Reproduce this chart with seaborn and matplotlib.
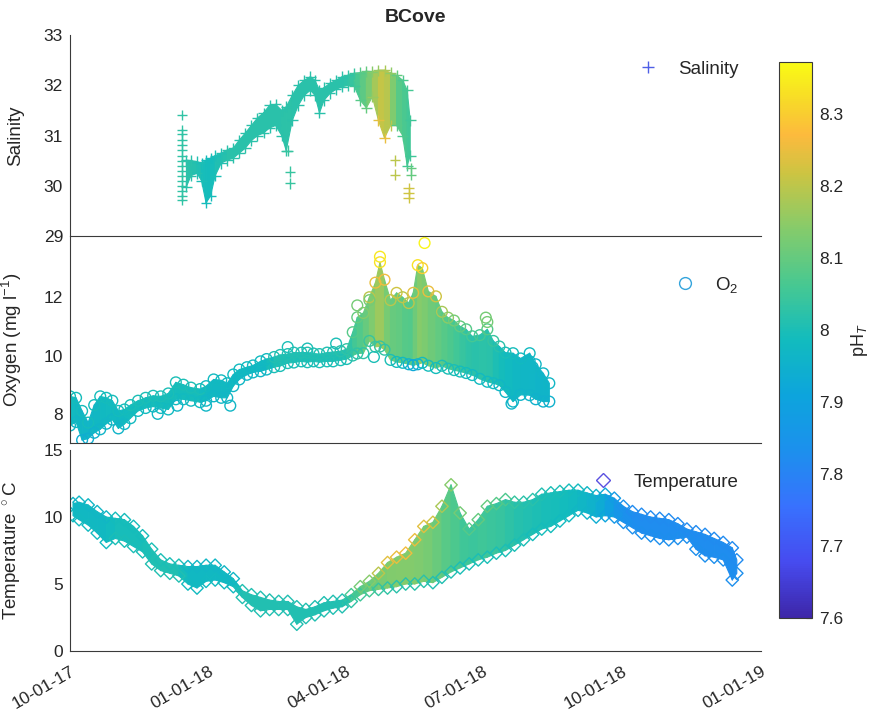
import numpy as np
import pandas as pd
import matplotlib
matplotlib.use("Agg")
import matplotlib.pyplot as plt
import matplotlib.dates as mdates
from matplotlib.colors import LinearSegmentedColormap, Normalize
from matplotlib.cm import ScalarMappable
from matplotlib.collections import PolyCollection
from matplotlib.lines import Line2D
from matplotlib.ticker import FuncFormatter
import seaborn as sns

# ---------------- data ----------------
START = "2017-10-01"
x_tick_dates = ["2017-10-01", "2018-01-01", "2018-04-01", "2018-07-01", "2018-10-01", "2019-01-01"]

# Salinity: band upper/lower envelope, pH at top / bottom of band
sal_day = [77, 80, 84, 87, 90, 93, 96, 100, 104, 108, 112, 116, 120, 124, 128, 132, 136, 140, 143, 147,
           151, 155, 159, 162, 165, 168, 172, 176, 180, 184, 188, 192, 196, 200, 204, 208, 212, 216, 220, 223, 225]
sal_hi = [30.51, 30.50, 30.48, 30.45, 30.51, 30.55, 30.6, 30.65, 30.71, 30.75, 30.91, 31.05, 31.2, 31.35, 31.45,
          31.6, 31.62, 31.5, 31.57, 31.8, 32.0, 32.1, 32.17, 32.1, 31.9, 31.95, 32.04, 32.1, 32.17, 32.2, 32.24,
          32.25, 32.28, 32.27, 32.3, 32.3, 32.25, 32.2, 32.1, 31.9, 31.3]
sal_lo = [29.98, 30.2, 30.25, 30.1, 29.66, 29.8, 30.2, 30.45, 30.51, 30.55, 30.65, 30.75, 30.9, 31.0, 31.05,
          31.15, 31.2, 31.0, 30.7, 31.3, 31.6, 31.8, 31.9, 31.8, 31.45, 31.7, 31.84, 31.92, 31.97, 32.0, 31.98,
          31.7, 31.55, 31.77, 31.3, 30.95, 31.2, 31.2, 31.0, 30.4, 30.6]
sal_ph_hi = [8.02, 8.02, 8.01, 8.0, 7.99, 7.99, 8.0, 8.01, 8.02, 8.02, 8.02, 8.02, 8.02, 8.02, 8.02, 8.02, 8.02,
             8.02, 8.02, 8.02, 8.02, 8.02, 8.02, 8.02, 8.02, 8.02, 8.02, 8.02, 8.02, 8.03, 8.04, 8.08, 8.1, 8.14,
             8.16, 8.18, 8.15, 8.1, 8.07, 8.06, 8.05]
sal_ph_lo = [8.02, 8.02, 8.01, 8.0, 7.99, 7.99, 8.0, 8.01, 8.02, 8.02, 8.02, 8.02, 8.02, 8.02, 8.02, 8.02, 8.02,
             8.02, 8.03, 8.02, 8.02, 8.02, 8.02, 8.02, 8.02, 8.02, 8.02, 8.02, 8.02, 8.03, 8.05, 8.08, 8.1, 8.16,
             8.24, 8.25, 8.2, 8.08, 8.07, 8.06, 8.05]
sal_out_day = [74] * 16 + [145.5, 145.5, 144, 215, 215, 224, 224, 224, 225.5, 225.5]
sal_out = [31.41, 31.1, 31.02, 30.92, 30.82, 30.72, 30.6, 30.5, 30.4, 30.3, 30.2, 30.1, 30.0, 29.9, 29.8, 29.72,
           30.28, 30.05, 30.7, 30.51, 30.22, 29.95, 29.85, 29.76, 30.35, 30.22]
sal_out_ph = [8.03] * 16 + [8.04, 8.04, 8.04, 8.2, 8.2, 8.22, 8.22, 8.22, 8.1, 8.1]

# Oxygen
oxy_day = [0, 4, 8, 12, 16, 20, 24, 28, 32, 36, 40, 45, 50, 55, 60, 65, 70, 75, 80, 86,
           90, 95, 100, 104, 108, 112, 117, 121, 126, 130, 135, 139, 144, 148, 153, 157, 161, 165, 170, 174,
           179, 183, 187, 190, 194, 198, 202, 205, 208, 212, 216, 220, 224, 227, 230, 233, 237, 242, 246, 250,
           254, 258, 262, 266, 271, 276, 280, 284, 288, 293, 298, 304, 308, 313, 317]
oxy_hi = [8.6, 8.55, 8.1, 7.7, 8.3, 8.6, 8.55, 8.45, 8.1, 8.15, 8.3, 8.45, 8.55, 8.62, 8.6, 8.7, 9.08, 9.0, 8.9, 8.85,
          8.95, 9.18, 9.15, 9.05, 9.35, 9.52, 9.6, 9.66, 9.8, 9.88, 9.95, 10.02, 10.05, 10.1, 10.1, 10.1, 10.07, 10.05,
          10.1, 10.12, 10.15, 10.22, 10.8, 11.31, 11.46, 12.0, 12.5, 13.2, 12.6, 11.9, 12.15, 12.0, 11.8, 12.15, 13.1,
          13.0, 12.2, 12.03, 11.5, 11.3, 11.2, 11.0, 10.9, 10.66, 10.7, 10.9, 10.5, 10.31, 10.1, 10.08, 9.9, 10.08,
          9.7, 9.39, 9.05]
oxy_lo = [7.6, 7.72, 7.1, 7.15, 7.35, 7.47, 7.66, 7.8, 7.5, 7.65, 7.85, 8.1, 8.2, 8.25, 8.2, 8.15, 8.5, 8.5, 8.45, 8.4,
          8.45, 8.6, 8.55, 8.55, 8.95, 9.18, 9.34, 9.42, 9.46, 9.52, 9.6, 9.64, 9.74, 9.76, 9.8, 9.77, 9.8, 9.77, 9.8,
          9.8, 9.84, 9.88, 10.0, 10.07, 10.08, 10.5, 10.3, 10.31, 10.2, 9.85, 9.78, 9.75, 9.7, 9.67, 9.7, 9.75, 9.65,
          9.57, 9.65, 9.55, 9.5, 9.45, 9.4, 9.33, 9.2, 9.1, 9.05, 8.98, 8.75, 8.42, 8.65, 8.64, 8.5, 8.42, 8.42]
oxy_ph_hi = [7.99] * 10 + [8.0] * 10 + [7.98] * 10 + [8.01] * 10 + \
            [8.02, 8.03, 8.08, 8.1, 8.14, 8.2, 8.25, 8.33, 8.26, 8.2,
             8.22, 8.2, 8.2, 8.24, 8.33, 8.3, 8.25, 8.22, 8.18, 8.15,
             8.12, 8.1, 8.08, 8.06, 8.06, 8.08, 8.04, 8.02, 8.0, 7.99,
             7.98, 7.98, 7.97, 7.97, 7.97]
oxy_ph_lo = [7.97, 7.97, 7.94, 7.94, 7.95, 7.96, 7.97, 7.97, 7.96, 7.97] + [7.98] * 10 + [7.97] * 10 + [8.0] * 10 + \
            [8.0, 8.0, 8.02, 8.03, 8.03, 8.04, 8.04, 8.04, 8.03, 8.0,
             7.99, 7.98, 7.95, 7.92, 7.95, 7.98, 7.99, 7.99, 8.0, 8.0,
             8.0, 7.99, 7.99, 7.98, 7.98, 7.98, 7.98, 7.97, 7.97, 7.96,
             7.96, 7.96, 7.95, 7.95, 7.95]
oxy_out_day = [58, 71, 90, 106, 144, 157, 176, 190, 198, 201, 205, 234.5, 275, 276, 304, 306, 292]
oxy_out = [8.0, 8.28, 8.28, 8.28, 10.29, 10.24, 10.41, 11.72, 11.9, 9.95, 13.39, 13.86, 11.3, 11.15, 9.8, 9.6, 8.35]
oxy_out_ph = [7.97, 7.97, 7.97, 7.97, 8.0, 8.0, 8.0, 8.12, 8.12, 8.0, 8.34, 8.36, 8.12, 8.12, 7.97, 7.97, 7.96]

# Temperature
tmp_day = [2, 6, 12, 18, 24, 30, 36, 42, 48, 54, 60, 66, 72, 78, 84, 90, 96, 102, 108, 114, 120, 126, 132, 138,
           144, 150, 156, 162, 168, 174, 180, 186, 192, 198, 204, 210, 216, 222, 228, 234, 240, 246, 252, 258,
           264, 270, 276, 282, 288, 294, 300, 306, 312, 318, 324, 330, 336, 342, 348, 354, 360, 366, 372, 378,
           384, 390, 396, 402, 408, 414, 420, 426, 432, 438, 441]
tmp_hi = [11.0, 11.1, 10.9, 10.4, 10.0, 9.9, 9.8, 9.3, 8.6, 7.6, 6.8, 6.5, 6.4, 6.3, 6.3, 6.4, 6.4, 5.9, 5.4, 4.5,
          4.2, 4.0, 3.8, 3.7, 3.7, 3.3, 3.1, 3.3, 3.6, 3.7, 3.8, 4.2, 4.8, 5.2, 5.8, 6.6, 7.0, 7.3, 8.3, 9.3, 9.6,
          10.8, 12.4, 10.3, 9.1, 9.8, 10.8, 11.0, 11.3, 11.1, 11.1, 11.3, 11.7, 11.8, 11.9, 12.0, 12.0, 11.8, 11.6,
          11.7, 11.4, 10.8, 10.4, 10.2, 10.0, 9.9, 9.8, 9.5, 9.1, 8.9, 8.7, 8.4, 8.1, 7.7, 6.8]
tmp_lo = [10.1, 9.8, 9.4, 8.8, 8.1, 8.4, 8.2, 7.8, 7.4, 6.5, 6.0, 5.8, 5.6, 5.0, 4.7, 5.2, 5.3, 5.1, 4.8, 4.0, 3.4,
          3.0, 3.1, 3.1, 3.1, 2.0, 2.5, 2.7, 3.0, 3.2, 3.3, 3.7, 4.2, 4.5, 4.6, 4.7, 4.8, 5.0, 5.0, 5.2, 5.1, 5.5,
          5.9, 6.2, 6.5, 6.8, 7.0, 7.3, 7.5, 7.9, 8.3, 8.7, 9.1, 9.3, 9.7, 10.1, 10.5, 10.3, 10.0, 10.1, 10.0, 9.6,
          9.2, 8.8, 8.6, 8.4, 8.3, 8.4, 8.5, 7.6, 7.1, 7.0, 6.8, 5.3, 5.8]
tmp_ph_hi = [7.97] * 5 + [7.99] * 4 + [8.0] * 4 + [7.97] * 6 + [8.01] * 12 + \
            [8.06, 8.12, 8.14, 8.2, 8.24, 8.25, 8.26, 8.25, 8.24, 8.22, 8.18,
             8.14, 8.12, 8.08, 8.1, 8.1, 8.08, 8.07,
             8.04, 8.02, 8.02, 8.01, 8.0, 8.0, 7.99, 7.98, 7.97, 7.95, 7.92,
             7.87, 7.84] + [7.82] * 13
tmp_ph_lo = [7.98] * 5 + [8.0] * 4 + [8.01] * 4 + [7.98] * 6 + [8.01] * 12 + \
            [8.03, 8.05, 8.06, 8.04, 8.03, 8.02, 8.02, 8.02, 8.02, 8.01, 8.01,
             8.01, 8.0, 8.0, 8.0, 8.0, 8.0, 8.0,
             8.0, 8.0, 7.99, 7.99, 7.99, 7.98, 7.98, 7.97, 7.96, 7.94, 7.91,
             7.86, 7.84] + [7.83] * 13

# ---------------- style ----------------
sns.set_style("white")
plt.rcParams["font.family"] = ["Liberation Sans", "DejaVu Sans"]
plt.rcParams["mathtext.fontset"] = "custom"
plt.rcParams["mathtext.rm"] = "Liberation Sans"
plt.rcParams["mathtext.it"] = "Liberation Sans:italic"
plt.rcParams["mathtext.bf"] = "Liberation Sans:bold"
TXT = "#262626"
plt.rcParams["text.color"] = TXT
plt.rcParams["axes.labelcolor"] = TXT
plt.rcParams["xtick.color"] = TXT
plt.rcParams["ytick.color"] = TXT

# parula-like colormap (MATLAB default)
parula_pos = [0.0, 0.1, 0.2, 0.3, 0.4, 0.5, 0.6, 0.7, 0.8, 0.87, 0.93, 1.0]
parula_rgb = [(0.2422, 0.1504, 0.6603), (0.2760, 0.2950, 0.9400), (0.2200, 0.4450, 0.9950),
              (0.1100, 0.5650, 0.9300), (0.0500, 0.6450, 0.8650), (0.0700, 0.7350, 0.7450),
              (0.2800, 0.7850, 0.5700), (0.5200, 0.7980, 0.4200), (0.8000, 0.7700, 0.2600),
              (0.9900, 0.7300, 0.2400), (0.9700, 0.8500, 0.1600), (0.9769, 0.9839, 0.0805)]
parula = LinearSegmentedColormap.from_list("parula", list(zip(parula_pos, parula_rgb)))
norm = Normalize(vmin=7.6, vmax=8.372)

start = pd.Timestamp(START)


def to_num(days):
    return mdates.date2num(start + pd.to_timedelta(np.asarray(days, dtype=float), unit="D"))


def hollow(coll):
    fc = coll.get_facecolors()
    coll.set_edgecolors(fc)
    coll.set_facecolors("none")


def draw_series(ax, day, hi, lo, ph_hi, ph_lo, out_day, out, out_ph, marker, size, is_filled):
    xd = to_num(day)
    hi = np.asarray(hi)
    lo = np.asarray(lo)
    band_ph = (np.asarray(ph_hi) + np.asarray(ph_lo)) / 2
    polys, cols = [], []
    for i in range(len(xd) - 1):
        polys.append([(xd[i], lo[i]), (xd[i + 1], lo[i + 1]), (xd[i + 1], hi[i + 1]), (xd[i], hi[i])])
        cols.append(parula(norm((band_ph[i] + band_ph[i + 1]) / 2)))
    pc = PolyCollection(polys, facecolors=cols, edgecolors=cols, linewidths=0.8, zorder=1)
    ax.add_collection(pc)
    for xs, ys, cs in [(xd, lo, ph_lo), (xd, hi, ph_hi), (to_num(out_day), out, out_ph)]:
        if len(xs) == 0:
            continue
        df = pd.DataFrame({"x": xs, "y": ys, "ph": cs})
        sns.scatterplot(data=df, x="x", y="y", hue="ph", palette=parula, hue_norm=norm,
                        marker=marker, s=size, linewidth=1.0, legend=False, ax=ax, zorder=2)
        if is_filled:
            hollow(ax.collections[-1])


# ---------------- figure ----------------
W, H = 873, 717
fig = plt.figure(figsize=(W / 100, H / 100), dpi=100)
L, R = 70, 761


def axes_px(top, bottom):
    return fig.add_axes([L / W, 1 - bottom / H, (R - L) / W, (bottom - top) / H])


ax1 = axes_px(35, 236)
ax2 = axes_px(236, 443)
ax3 = axes_px(450, 651)

draw_series(ax1, sal_day, sal_hi, sal_lo, sal_ph_hi, sal_ph_lo, sal_out_day, sal_out, sal_out_ph,
            "+", 60, False)
draw_series(ax2, oxy_day, oxy_hi, oxy_lo, oxy_ph_hi, oxy_ph_lo, oxy_out_day, oxy_out, oxy_out_ph,
            "o", 60, True)
draw_series(ax3, tmp_day, tmp_hi, tmp_lo, tmp_ph_hi, tmp_ph_lo, [], [], [],
            "D", 40, True)

xt = mdates.date2num(pd.to_datetime(x_tick_dates))
for ax in (ax1, ax2, ax3):
    ax.set_xlim(xt[0], xt[-1])
    ax.set_xticks(xt)
    ax.set_facecolor("none")
    for s in ("top", "right"):
        ax.spines[s].set_visible(False)
    for s in ("left", "bottom"):
        ax.spines[s].set_color("#3a3a3a")
        ax.spines[s].set_linewidth(0.8)
    ax.tick_params(direction="in", length=4.5, width=0.8, color="#3a3a3a", labelsize=12.5, pad=5)
    ax.set_xlabel("")

ax1.set_ylim(29, 33)
ax1.set_yticks([29, 30, 31, 32, 33])
ax2.set_ylim(7.0, 14.1)
ax2.set_yticks([8, 10, 12])
ax3.set_ylim(0, 15)
ax3.set_yticks([0, 5, 10, 15])
ax1.tick_params(axis="x", labelbottom=False)
ax2.tick_params(axis="x", labelbottom=False)
ax3.xaxis.set_major_formatter(mdates.DateFormatter("%m-%d-%y"))
ax3.tick_params(axis="x", pad=9)
for lab in ax3.get_xticklabels():
    lab.set_rotation(30)
    lab.set_ha("right")
    lab.set_rotation_mode("anchor")

ax1.set_ylabel("Salinity", fontsize=13.5)
ax2.set_ylabel("Oxygen (mg l$^{-1}$)", fontsize=13.5)
ax3.set_ylabel("Temperature $^\\circ$C", fontsize=13.5)
for ax in (ax1, ax2, ax3):
    ax.yaxis.set_label_coords(-0.066, 0.5)

ax1.set_title("BCove", fontsize=14, fontweight="bold", pad=9)

# legends
leg_kw = dict(frameon=False, fontsize=13.5, handlelength=1.0, handletextpad=1.1,
              borderaxespad=0, borderpad=0, loc="center right")
ax1.legend(handles=[Line2D([0], [0], marker="+", ls="none", color="#4f5fe6", markersize=9, mew=1.0)],
           labels=["Salinity"], bbox_to_anchor=(0.967, 0.83), **leg_kw)
ax2.legend(handles=[Line2D([0], [0], marker="o", ls="none", mfc="none", mec="#34a4dc", markersize=8.5, mew=1.0)],
           labels=["O$_2$"], bbox_to_anchor=(0.967, 0.765), **leg_kw)
ax3.legend(handles=[Line2D([0], [0], marker="D", ls="none", mfc="none", mec="#5a50e0", markersize=7, mew=1.0)],
           labels=["Temperature"], bbox_to_anchor=(0.967, 0.84), **leg_kw)

# colorbar
cax = fig.add_axes([779 / W, 1 - 618 / H, 33 / W, 556 / H])
cb = fig.colorbar(ScalarMappable(norm=norm, cmap=parula), cax=cax)
cb.set_ticks([7.6, 7.7, 7.8, 7.9, 8.0, 8.1, 8.2, 8.3])
cb.ax.yaxis.set_major_formatter(FuncFormatter(lambda v, p: f"{v:g}"))
cb.ax.tick_params(direction="in", length=4.5, width=0.8, color="#3a3a3a", labelsize=12.5, pad=5)
cb.outline.set_edgecolor("#3a3a3a")
cb.outline.set_linewidth(0.8)
cb.set_label("pH$_T$", fontsize=13, rotation=90, labelpad=4)

fig.savefig("out.png", dpi=100, facecolor="white")
